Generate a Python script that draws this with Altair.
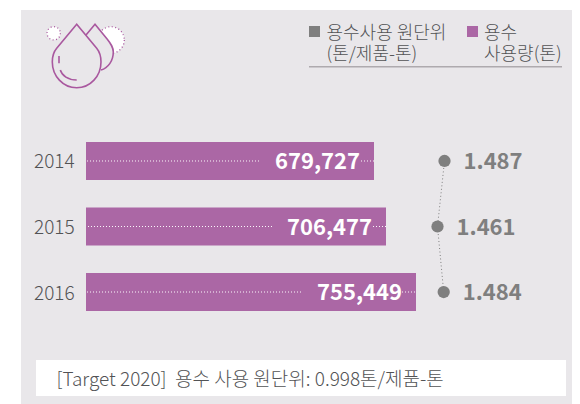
import altair as alt
import pandas as pd

years = ["2014", "2015", "2016"]
usage = [679727, 706477, 755449]
usage_labels = ["679,727", "706,477", "755,449"]
intensity = [1.487, 1.461, 1.484]
intensity_labels = ["1.487", "1.461", "1.484"]
legend_grey = ["용수사용 원단위", "(톤/제품-톤)"]
legend_purple = ["용수", "사용량(톤)"]
footer = "[Target 2020]\u00a0\u00a0용수 사용 원단위: 0.998톤/제품-톤"

PANEL = "#e9e7ea"
PURPLE = "#ab67a5"
GREY = "#7f7f7f"
TEXT = "#525355"
ICON = "#a9589f"
KR = "Noto Sans CJK KR"

df = pd.DataFrame({"year": years, "usage": usage, "usage_label": usage_labels,
                   "intensity": intensity, "intensity_label": intensity_labels})
one = alt.Chart(pd.DataFrame({"a": [0]}))

def box(x0, x1, y0, y1, color):
    return one.mark_rect(color=color).encode(
        x=alt.value(x0), x2=alt.value(x1), y=alt.value(y0), y2=alt.value(y1))

def label(text, x, y, size, color, **kw):
    return one.mark_text(text=text, font=KR, fontSize=size, color=color,
                         align="left", baseline="middle", **kw).encode(
        x=alt.value(x), y=alt.value(y))

def glyph(path, fill, stroke, sw=1.6):
    return one.mark_point(shape=path, size=4, fill=fill, stroke=stroke, strokeWidth=sw,
                          opacity=1, fillOpacity=1, strokeOpacity=1).encode(
        x=alt.value(0), y=alt.value(0))

def dotted_circle(x, y, size):
    return one.mark_circle(size=size, fill="white", stroke=ICON, strokeWidth=1.3,
                           strokeDash=[1, 2.5], opacity=1).encode(
        x=alt.value(x), y=alt.value(y))

Y = alt.Y("year:N", axis=None, sort=years,
          scale=alt.Scale(domain=years, range=[134, 303], paddingInner=0.42, paddingOuter=0))
X_USAGE = alt.X("usage:Q", axis=None,
                scale=alt.Scale(domain=[0, 679727, 706477, 755449], range=[78, 366, 378, 408]))
X_INT = alt.X("intensity:Q", axis=None,
              scale=alt.Scale(domain=[1.461, 1.487], range=[429.5, 436.5], zero=False))
X2_ZERO = alt.value(78)

base = alt.Chart(df)

bars = base.mark_bar(color=PURPLE, size=38).encode(x=X_USAGE, x2=X2_ZERO, y=Y)
usage_text = base.mark_text(font=KR, fontSize=22, fontWeight="bold", color="white",
                            align="right", baseline="middle", dx=-14, dy=1).encode(
    x=X_USAGE, y=Y, text="usage_label:N")

def dots(year, x0, x1):
    return alt.Chart(pd.DataFrame({"year": [year]})).mark_rule(
        color="white", strokeWidth=1, strokeDash=[1, 2], opacity=0.95).encode(
        x=alt.value(x0), x2=alt.value(x1), y=Y)

dotted = [dots("2014", 79, 252), dots("2014", 353, 366),
          dots("2015", 80, 265), dots("2015", 365, 378),
          dots("2016", 79, 294), dots("2016", 394, 407)]

year_text = base.mark_text(font=KR, fontSize=19, fontWeight=300, color=TEXT,
                           align="left", baseline="middle", dy=1.5).encode(
    x=alt.value(26), y=Y, text="year:N")

bar_group = alt.layer(bars, *dotted, usage_text, year_text)

link = base.mark_line(color=GREY, strokeWidth=1, strokeDash=[1, 2.5]).encode(
    x=X_INT, y=Y, order=alt.Order("year:N"))
point = base.mark_circle(color=GREY, size=150, opacity=1).encode(x=X_INT, y=Y)
int_text = base.mark_text(font=KR, fontSize=22, fontWeight="bold", color=GREY,
                          align="left", baseline="middle", dx=19, dy=1).encode(
    x=X_INT, y=Y, text="intensity_label:N")
int_group = alt.layer(link, point, int_text)

deco = alt.layer(
    box(13, 564, 2, 396, PANEL),
    box(28, 558, 352, 388, "white"),
    label(footer, 48.5, 371.5, 19, TEXT, fontWeight=300),
    dotted_circle(45.7, 25.3, 177),
    dotted_circle(103, 32, 707),
    glyph("M78 27L87 16.3L99.3 31.3C103 36 105.3 39 105.3 44C105.3 53 100 60 93 62", PANEL, ICON),
    glyph("M68.7 16.3L48.7 40.3C45.5 44 44.3 49 44.3 54C44.3 68 55 79.7 68.7 79.7"
          "C82.4 79.7 93 68 93 54C93 49 91.7 44 88.7 40.3Z", PANEL, ICON),
    glyph("M51 48L51 55.3", "transparent", ICON),
    glyph("M52.3 62C54 67.5 60 72 68.7 72", "transparent", ICON),
    box(301, 312, 18, 29, GREY),
    box(459, 470, 18, 29, PURPLE),
    label(legend_grey[0], 318.5, 25.5, 18, TEXT, fontWeight=300),
    label(legend_grey[1], 318.5, 46.5, 18, TEXT, fontWeight=300),
    label(legend_purple[0], 476, 25.5, 18, TEXT, fontWeight=300),
    label(legend_purple[1], 476, 46.5, 18, TEXT, fontWeight=300),
    box(301, 554, 58, 59.5, "#aeaaae"),
)

chart = alt.layer(deco, bar_group, int_group).resolve_scale(x="independent").properties(
    width=564, height=396, padding=0, autosize=alt.AutoSizeParams(type="none"),
    background="white",
).configure_view(stroke=None)

chart.save("out.html", embed_options={"renderer": "svg", "actions": False})
